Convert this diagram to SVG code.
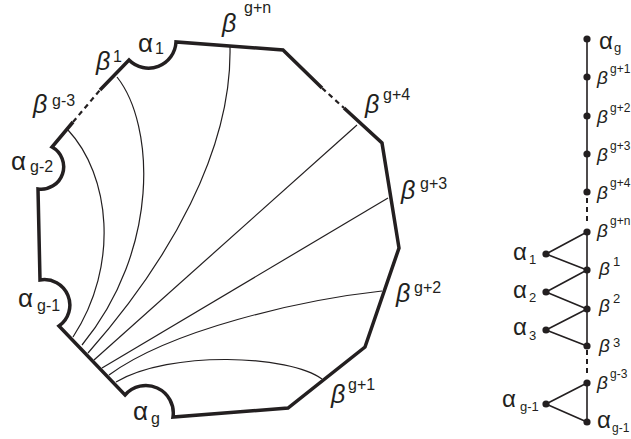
<svg xmlns="http://www.w3.org/2000/svg" width="631" height="439" viewBox="0 0 631 439">
<style>
.edge{fill:none;stroke:#231f20;stroke-width:3.5;stroke-linejoin:miter}
.dash{fill:none;stroke:#231f20;stroke-width:2.2;stroke-dasharray:5 4}
.thin{fill:none;stroke:#231f20;stroke-width:1.2}
.gl{fill:none;stroke:#231f20;stroke-width:1.6}
.gd{fill:none;stroke:#231f20;stroke-width:2;stroke-dasharray:5 4}
.node{fill:#231f20}
text{fill:#231f20;font-family:"Liberation Sans",Arial,sans-serif}
.a{font-size:26px}
.b{font-style:italic;font-size:25px}
.ra{font-size:24px}
.rb{font-style:italic;font-size:19px}
.s{font-style:normal;font-size:16px}
.rs{font-style:normal;font-size:13px}
.rx{font-style:normal;font-size:12px}
.rsub{font-style:normal;font-size:13px}
</style>

<g id="polygon">
  <path class="edge" d="M100,90 L129,60 A27.5,27.5 0 0 0 176,42 L283,50 L322,88"/>
  <path class="dash" d="M322,88 L344,108"/>
  <path class="edge" d="M344,108 L382,143 L399,248 L365,347 L288,408 L173,417 A27.5,27.5 0 0 0 125,395 L59,326 A25.5,25.5 0 0 0 40,280 L38,189 A22.5,22.5 0 0 0 52,147 L73,122"/>
  <path class="dash" d="M73,122 L100,90"/>
</g>

<g id="connectors">
  <path class="thin" d="M68,130 C110,175 120,265 73,337"/>
  <path class="thin" d="M117,77 C155,125 160,250 82,345"/>
  <path class="thin" d="M230,47 C232,150 170,260 88,353"/>
  <path class="thin" d="M357,125 L94,360"/>
  <path class="thin" d="M388,198 L102,368"/>
  <path class="thin" d="M382,291 C300,300 170,330 109,375"/>
  <path class="thin" d="M322,379 C290,355 170,350 116,382"/>
  <g id="graph-edges">
    <path class="gl" d="M587,39 L587,192"/>
    <path class="gd" d="M587,198 L587,225"/>
    <path class="gl" d="M587,232 L587,346"/>
    <path class="gd" d="M587,350 L587,377"/>
    <path class="gl" d="M587,383 L587,422"/>
    <path class="gl" d="M546,254 L587,232 M546,254 L587,270 M546,292 L587,270 M546,292 L587,309 M546,330 L587,309 M546,330 L587,346 M546,404 L587,383 M546,404 L587,422"/>
  </g>
</g>

<g id="labels-left">
  <g id="l-bg3"><text class="b" x="33" y="113">β<tspan class="s" x="52" y="106">g-3</tspan></text></g>
  <g id="l-b1"><text class="b" x="96" y="70">β<tspan class="s" x="113" y="62">1</tspan></text></g>
  <g id="l-a1"><text class="a" x="138" y="52">α<tspan class="s" x="155" y="54">1</tspan></text></g>
  <g id="l-bgn"><text class="b" x="222" y="32">β<tspan class="s" x="244" y="13">g+n</tspan></text></g>
  <g id="l-bg4"><text class="b" x="365" y="113">β<tspan class="s" x="383" y="100">g+4</tspan></text></g>
  <g id="l-bg3p"><text class="b" x="401" y="199">β<tspan class="s" x="420" y="189">g+3</tspan></text></g>
  <g id="l-bg2"><text class="b" x="396" y="302">β<tspan class="s" x="414" y="293">g+2</tspan></text></g>
  <g id="l-bg1"><text class="b" x="331" y="403">β<tspan class="s" x="348" y="390">g+1</tspan></text></g>
  <g id="l-ag2"><text class="a" x="11" y="170">α<tspan class="s" x="30" y="172">g-2</tspan></text></g>
  <g id="l-ag1"><text class="a" x="18" y="307">α<tspan class="s" x="37" y="311">g-1</tspan></text></g>
  <g id="l-ag"><text class="a" x="133" y="420">α<tspan class="s" x="151" y="424">g</tspan></text></g>
</g>

<g id="graph">
  <g id="n-ag"><circle class="node" cx="587" cy="39" r="3.6"/><text class="ra" x="599" y="49">α<tspan class="rsub" x="614" y="52">g</tspan></text></g>
  <g id="n-bg1"><circle class="node" cx="587" cy="77" r="3.6"/><text class="rb" x="597" y="84">β<tspan class="rx" x="610" y="73">g+1</tspan></text></g>
  <g id="n-bg2"><circle class="node" cx="587" cy="116" r="3.6"/><text class="rb" x="597" y="123">β<tspan class="rx" x="610" y="112">g+2</tspan></text></g>
  <g id="n-bg3"><circle class="node" cx="587" cy="154" r="3.6"/><text class="rb" x="597" y="161">β<tspan class="rx" x="610" y="150">g+3</tspan></text></g>
  <g id="n-bg4"><circle class="node" cx="587" cy="192" r="3.6"/><text class="rb" x="597" y="199">β<tspan class="rx" x="610" y="187">g+4</tspan></text></g>
  <g id="n-bgn"><circle class="node" cx="587" cy="232" r="3.6"/><text class="rb" x="597" y="237">β<tspan class="rx" x="610" y="225">g+n</tspan></text></g>
  <g id="n-b1"><circle class="node" cx="587" cy="270" r="3.6"/><text class="rb" x="599" y="275">β<tspan class="rs" x="613" y="266">1</tspan></text></g>
  <g id="n-b2"><circle class="node" cx="587" cy="309" r="3.6"/><text class="rb" x="599" y="312">β<tspan class="rs" x="613" y="303">2</tspan></text></g>
  <g id="n-b3"><circle class="node" cx="587" cy="346" r="3.6"/><text class="rb" x="599" y="352">β<tspan class="rs" x="613" y="347">3</tspan></text></g>
  <g id="n-bg-3"><circle class="node" cx="587" cy="383" r="3.6"/><text class="rb" x="597" y="389">β<tspan class="rx" x="610" y="378">g-3</tspan></text></g>
  <g id="n-ag-1r"><circle class="node" cx="587" cy="422" r="3.6"/><text class="ra" x="597" y="428">α<tspan class="rx" x="612" y="432">g-1</tspan></text></g>
  <g id="n-a1"><circle class="node" cx="546" cy="254" r="3.6"/><text class="ra" x="513" y="260">α<tspan class="rsub" x="529" y="264">1</tspan></text></g>
  <g id="n-a2"><circle class="node" cx="546" cy="292" r="3.6"/><text class="ra" x="513" y="298">α<tspan class="rsub" x="529" y="302">2</tspan></text></g>
  <g id="n-a3"><circle class="node" cx="546" cy="330" r="3.6"/><text class="ra" x="513" y="335">α<tspan class="rsub" x="529" y="340">3</tspan></text></g>
  <g id="n-ag-1l"><circle class="node" cx="546" cy="404" r="3.6"/><text class="ra" x="502" y="407">α<tspan class="rsub" x="520" y="411">g-1</tspan></text></g>
</g>
</svg>
